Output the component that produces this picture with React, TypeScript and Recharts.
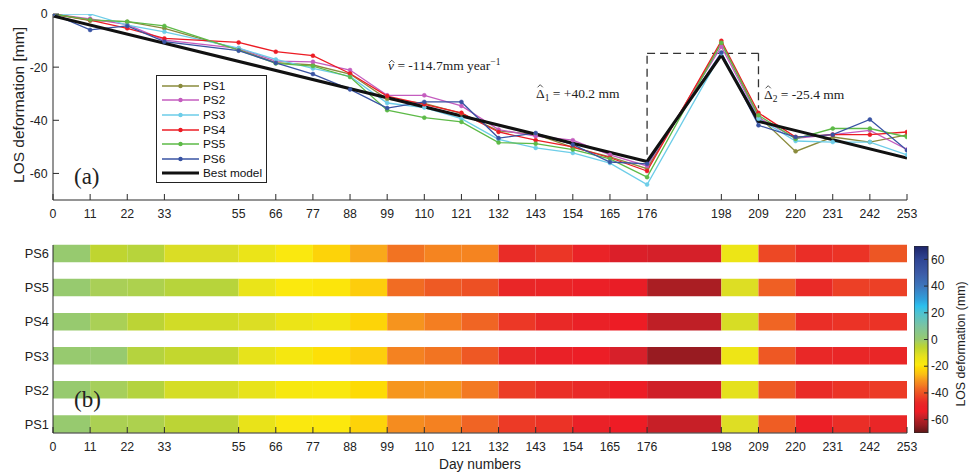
import React from 'react';
import {
  ComposedChart, Line, XAxis, YAxis, ReferenceLine, Legend,
  BarChart, Bar, Cell,
} from 'recharts';

// ---------- data ----------
const days = [0, 11, 22, 33, 55, 66, 77, 88, 99, 110, 121, 132, 143, 154, 165, 176, 198, 209, 220, 231, 242, 253];

const ps1 = [0, -2.5, -2.9, -5.4, -13.3, -18.3, -19.2, -22.6, -32, -33.6, -37.4, -44, -45.3, -50.2, -53.8, -58.2, -11, -38.5, -51.7, -46.3, -48.2, -45.5];
const ps2 = [0, -1.8, -4.0, -9.8, -12.9, -17.7, -18, -21.1, -30.6, -30.6, -34.6, -43.5, -46, -47.5, -53, -57.2, -12.3, -39, -46.8, -45.4, -43.8, -51];
const ps3 = [0, 0, -4.2, -6.7, -12.8, -17.1, -20.5, -23.5, -33.5, -35.2, -39.4, -47.2, -50.4, -52.3, -56.1, -64.2, -14.8, -39.4, -47.8, -48.2, -48.2, -53];
const ps4 = [0, -2.3, -5.4, -9.2, -10.7, -14.2, -15.7, -22.4, -30.9, -34, -37.2, -44.4, -47.5, -50, -54.1, -59.1, -10.1, -37.2, -46.3, -45.4, -45.4, -44.4];
const ps5 = [0, -2.2, -2.9, -4.5, -13.6, -18.6, -19.6, -23.7, -36.2, -39, -40.6, -48.4, -48.8, -51, -54.5, -61.4, -10.8, -38.1, -47, -43.1, -43.1, -46.3];
const ps6 = [0, -6, -4.5, -10.4, -13.8, -18.4, -22.6, -28.4, -35.4, -33.1, -33.1, -46.7, -44.8, -49.2, -55.7, -56.4, -14.5, -41.9, -46.3, -45.4, -39.7, -51.3];

const seriesNames = ['PS1', 'PS2', 'PS3', 'PS4', 'PS5', 'PS6'];
const seriesValues = [ps1, ps2, ps3, ps4, ps5, ps6];
const seriesColors = ['#8a8b3c', '#c45cbf', '#6dcde8', '#ec1c24', '#5dba47', '#3853a3'];

const bestDays = [0, 176, 198, 209, 253];
const bestValues = [-0.7, -55.5, -15.5, -40.4, -54.2];

const topYTicks = [-60, -40, -20, 0];
const heatRows = ['PS6', 'PS5', 'PS4', 'PS3', 'PS2', 'PS1'];
const cbarTicks = [-60, -40, -20, 0, 20, 40, 60];
const cbarRange = [-70, 70];

const cmapValues = [-70, -64, -61, -58, -56, -54, -50, -47, -44, -40, -37, -34, -31, -29, -26, -23, -21, -19, -17, -13, -11, -9, -6, -4, -2, 0, 10, 20, 25, 30, 40, 50, 60, 70];
const cmapColors = ['#5a1818', '#9a1b21', '#ad1e23', '#c91f27', '#d8202a', '#ee1c25', '#ea2127', '#e92a27', '#ec3a26', '#ed5424', '#f06624', '#f47e21', '#f6931e', '#f8a41c', '#fbbf14', '#fdd10a', '#fddc05', '#fce90e', '#f5e710', '#e8e31a', '#dede24', '#cfdc27', '#bfd530', '#b4d33f', '#a8cf5a', '#97ca6f', '#7cc4a0', '#4ec3d2', '#2cc0ee', '#30a0db', '#3d76bc', '#3c5aa6', '#2f4594', '#1d2468'];

// ---------- helpers ----------
const hexToRgb = (h: string) => [parseInt(h.slice(1, 3), 16), parseInt(h.slice(3, 5), 16), parseInt(h.slice(5, 7), 16)];
const cmap = (v: number) => {
  if (v <= cmapValues[0]) return cmapColors[0];
  for (let i = 1; i < cmapValues.length; i++) {
    if (v <= cmapValues[i]) {
      const t = (v - cmapValues[i - 1]) / (cmapValues[i] - cmapValues[i - 1]);
      const a = hexToRgb(cmapColors[i - 1]);
      const b = hexToRgb(cmapColors[i]);
      const c = a.map((x, k) => Math.round(x + (b[k] - x) * t));
      return `rgb(${c[0]},${c[1]},${c[2]})`;
    }
  }
  return cmapColors[cmapColors.length - 1];
};

const lineData = days.map((d, i) => {
  const o: any = { day: d };
  seriesNames.forEach((n, k) => { o[n] = seriesValues[k][i]; });
  return o;
});
const bestData = bestDays.map((d, i) => ({ day: d, best: bestValues[i] }));

const heatData = heatRows.map((name) => {
  const o: any = { name };
  for (let i = 0; i < days.length - 1; i++) o['s' + i] = days[i + 1] - days[i];
  return o;
});

const cbarData = [{ name: 'cb', range: cbarRange }];
// gradient stops ordered from top (+70) to bottom (-70)
const gradStops = cmapValues.map((v, i) => ({ off: (70 - v) / 140, c: cmapColors[i] })).reverse();

const AX = '#2a2a2a';
const SANS = '"Liberation Sans", Arial, Helvetica, sans-serif';
const SERIF = '"Liberation Serif", "DejaVu Serif", serif';
const tickStyle = { fontSize: 12.3, fill: '#222', fontFamily: SANS };

const Hat = ({ cx, cy }: { cx: number; cy: number }) => (
  <path d={`M${cx - 2.6} ${cy + 1.3} L${cx} ${cy - 1.3} L${cx + 2.6} ${cy + 1.3}`} fill="none" stroke="#222" strokeWidth={0.8} />
);

const LegendBox = () => {
  const entries = [
    ...seriesNames.map((n, k) => ({ n, c: seriesColors[k], w: 1.6, dot: true })),
    { n: 'Best model', c: '#111', w: 3, dot: false },
  ];
  return (
    <div style={{ width: 111, height: 108, boxSizing: 'border-box', border: '1px solid #222', background: '#fff', paddingTop: 2.5 }}>
      {entries.map((e) => (
        <div key={e.n} style={{ height: 14.6, display: 'flex', alignItems: 'center' }}>
          <svg width={46} height={12} style={{ flex: 'none' }}>
            <line x1={5} x2={42} y1={6} y2={6} stroke={e.c} strokeWidth={e.w} />
            {e.dot && <circle cx={23.5} cy={6} r={2.2} fill={e.c} />}
          </svg>
          <span style={{ fontFamily: SANS, fontSize: 11.8, color: '#111', lineHeight: '12px' }}>{e.n}</span>
        </div>
      ))}
    </div>
  );
};

export default function App() {
  return (
    <div style={{ position: 'absolute', left: 0, top: 0, width: 971, height: 474, background: '#fff', overflow: 'hidden' }}>
      <svg width={0} height={0} style={{ position: 'absolute' }}>
        <defs>
          <linearGradient id="cbarGrad" x1="0" y1="0" x2="0" y2="1">
            {gradStops.map((s, i) => (
              <stop key={i} offset={s.off} stopColor={s.c} />
            ))}
          </linearGradient>
        </defs>
      </svg>

      {/* ---- (a) line chart ---- */}
      <div style={{ position: 'absolute', left: 0, top: 0 }}>
        <ComposedChart width={971} height={230} data={lineData} margin={{ top: 14, right: 64, bottom: 0, left: 8 }}>
          <XAxis dataKey="day" type="number" domain={[0, 253]} ticks={days} interval={0} allowDataOverflow
            height={30} tickSize={-6} tickMargin={15} tick={tickStyle} stroke={AX} axisLine={{ stroke: AX }} tickLine={{ stroke: AX }} />
          <XAxis xAxisId="top" orientation="top" type="number" domain={[0, 253]} ticks={days} interval={0}
            height={0} tickSize={-6} tick={false} axisLine={{ stroke: AX }} tickLine={{ stroke: AX }} />
          <YAxis type="number" domain={[-70, 0]} ticks={topYTicks} interval={0} allowDataOverflow width={45}
            tickSize={-6} tickMargin={11.5} tick={tickStyle} axisLine={{ stroke: AX }} tickLine={{ stroke: AX }} />
          <YAxis yAxisId="r" orientation="right" type="number" domain={[-70, 0]} ticks={topYTicks} width={0}
            tickSize={-6} tick={false} axisLine={{ stroke: AX }} tickLine={{ stroke: AX }} />
          <ReferenceLine segment={[{ x: 176, y: -53 }, { x: 176, y: -14.8 }]} stroke="#333" strokeWidth={1.3} strokeDasharray="8 5" />
          <ReferenceLine segment={[{ x: 176, y: -14.8 }, { x: 209, y: -14.8 }]} stroke="#333" strokeWidth={1.3} strokeDasharray="8 5" />
          <ReferenceLine segment={[{ x: 209, y: -14.8 }, { x: 209, y: -35.5 }]} stroke="#333" strokeWidth={1.3} strokeDasharray="8 5" />
          {seriesNames.map((n, k) => (
            <Line key={n} dataKey={n} name={n} stroke={seriesColors[k]} strokeWidth={1.3}
              dot={{ r: 2, fill: seriesColors[k], stroke: seriesColors[k], strokeWidth: 0.5 }}
              isAnimationActive={false} />
          ))}
          <Line data={bestData} dataKey="best" name="Best model" stroke="#111" strokeWidth={3} dot={false} isAnimationActive={false} />
          <Legend layout="vertical" align="center" verticalAlign="middle" content={() => <LegendBox />}
            wrapperStyle={{ position: 'absolute', left: 156, top: 75, width: 111, height: 108 }} />
        </ComposedChart>
      </div>

      {/* ---- (b) heat map ---- */}
      <div style={{ position: 'absolute', left: 0, top: 230 }}>
        <BarChart width={971} height={244} data={heatData} layout="vertical" barCategoryGap={0}
          margin={{ top: 15, right: 64, bottom: 0, left: 8 }}>
          <XAxis type="number" domain={[0, 253]} ticks={days} interval={0} allowDataOverflow height={41}
            tickSize={-6} tickMargin={15} tick={tickStyle} axisLine={{ stroke: AX }} tickLine={{ stroke: AX }} />
          <XAxis xAxisId="top" orientation="top" type="number" domain={[0, 253]} height={0} tick={false}
            tickLine={false} axisLine={{ stroke: AX }} />
          <YAxis type="category" dataKey="name" width={45} padding={{ top: -8.3, bottom: -8.3 }}
            tickSize={0} tickMargin={4} tick={{ ...tickStyle, fontSize: 12.8 }} axisLine={{ stroke: AX }} tickLine={false} />
          <YAxis yAxisId="r" orientation="right" type="category" dataKey="name" width={0} tick={false}
            tickLine={false} axisLine={{ stroke: AX }} />
          {days.slice(0, -1).map((_, i) => (
            <Bar key={i} dataKey={'s' + i} stackId="h" barSize={17.5} isAnimationActive={false}>
              {heatRows.map((n) => (
                <Cell key={n} fill={cmap(seriesValues[seriesNames.indexOf(n)][i])} />
              ))}
            </Bar>
          ))}
        </BarChart>
      </div>

      {/* ---- colour bar ---- */}
      <div style={{ position: 'absolute', left: 914, top: 246 }}>
        <BarChart width={57} height={187} data={cbarData} barCategoryGap={0} barGap={0}
          margin={{ top: 0, right: 0, bottom: 0, left: 0 }}>
          <XAxis dataKey="name" type="category" hide />
          <YAxis orientation="right" type="number" domain={[-70, 70]} ticks={cbarTicks} interval={0} width={43}
            allowDataOverflow tickSize={-4} tickMargin={7} tick={{ ...tickStyle, fontSize: 12 }} axisLine={false} tickLine={{ stroke: AX }} />
          <Bar dataKey="range" fill="url(#cbarGrad)" stroke={AX} strokeWidth={1} isAnimationActive={false} />
        </BarChart>
      </div>

      {/* ---- text overlay ---- */}
      <svg width={971} height={474} style={{ position: 'absolute', left: 0, top: 0, pointerEvents: 'none' }}>
        <text x={18} y={105} transform="rotate(-90 18 105)" textAnchor="middle" dominantBaseline="central"
          fontFamily={SANS} fontSize={15.5} fill="#222">LOS deformation [mm]</text>
        <text x={480} y={469} textAnchor="middle" fontFamily={SANS} fontSize={13.8} fill="#222">Day numbers</text>
        <text x={961} y={344} transform="rotate(-90 961 344)" textAnchor="middle" dominantBaseline="central"
          fontFamily={SANS} fontSize={12.3} fill="#222">LOS deformation (mm)</text>
        <text x={74} y={184} fontFamily={SERIF} fontSize={23} fill="#222">(a)</text>
        <text x={74} y={407} fontFamily={SERIF} fontSize={23} fill="#222">(b)</text>

        <text x={388} y={70} fontFamily={SERIF} fontSize={13.5} fill="#222">
          <tspan fontStyle="italic">v</tspan>
          <tspan> = -114.7mm year</tspan>
          <tspan dy={-5} fontSize={9.5}>−1</tspan>
        </text>
        <Hat cx={391.8} cy={61.5} />

        <text x={536} y={98} fontFamily={SERIF} fontSize={13.5} fill="#222">
          <tspan>Δ</tspan>
          <tspan dy={3} fontSize={9.5}>1</tspan>
          <tspan dy={-3}> = +40.2 mm</tspan>
        </text>
        <Hat cx={540.2} cy={86} />

        <text x={764} y={99} fontFamily={SERIF} fontSize={13.5} fill="#222">
          <tspan>Δ</tspan>
          <tspan dy={3} fontSize={9.5}>2</tspan>
          <tspan dy={-3}> = -25.4 mm</tspan>
        </text>
        <Hat cx={768.2} cy={87} />
      </svg>
    </div>
  );
}
